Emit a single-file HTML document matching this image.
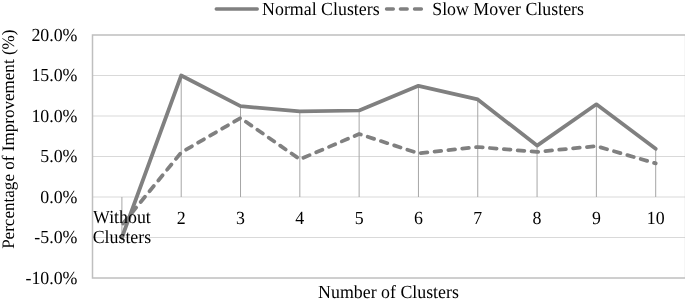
<!DOCTYPE html>
<html><head><meta charset="utf-8"><style>
html,body{margin:0;padding:0;background:#fff;width:685px;height:303px;overflow:hidden}
svg{display:block;will-change:transform}
</style></head><body>
<svg width="685" height="303" viewBox="0 0 685 303">
<rect width="685" height="303" fill="#fff"/>
<line x1="92.5" y1="75.50" x2="685.6" y2="75.50" stroke="#d9d9d9" stroke-width="1"/>
<line x1="92.5" y1="116.00" x2="685.6" y2="116.00" stroke="#d9d9d9" stroke-width="1"/>
<line x1="92.5" y1="156.50" x2="685.6" y2="156.50" stroke="#d9d9d9" stroke-width="1"/>
<line x1="92.5" y1="197.00" x2="685.6" y2="197.00" stroke="#d9d9d9" stroke-width="1"/>
<line x1="92.5" y1="237.50" x2="685.6" y2="237.50" stroke="#d9d9d9" stroke-width="1"/>
<line x1="121.90" y1="197.00" x2="121.90" y2="237.50" stroke="#a6a6a6" stroke-width="1"/>
<line x1="181.21" y1="75.50" x2="181.21" y2="197.00" stroke="#a6a6a6" stroke-width="1"/>
<line x1="240.52" y1="106.20" x2="240.52" y2="197.00" stroke="#a6a6a6" stroke-width="1"/>
<line x1="299.83" y1="111.30" x2="299.83" y2="197.00" stroke="#a6a6a6" stroke-width="1"/>
<line x1="359.14" y1="110.50" x2="359.14" y2="197.00" stroke="#a6a6a6" stroke-width="1"/>
<line x1="418.45" y1="85.80" x2="418.45" y2="197.00" stroke="#a6a6a6" stroke-width="1"/>
<line x1="477.76" y1="99.40" x2="477.76" y2="197.00" stroke="#a6a6a6" stroke-width="1"/>
<line x1="537.07" y1="145.60" x2="537.07" y2="197.00" stroke="#a6a6a6" stroke-width="1"/>
<line x1="596.38" y1="104.30" x2="596.38" y2="197.00" stroke="#a6a6a6" stroke-width="1"/>
<line x1="655.69" y1="148.80" x2="655.69" y2="197.00" stroke="#a6a6a6" stroke-width="1"/>
<rect x="92.5" y="35.00" width="593.1" height="243.00" fill="none" stroke="#bfbfbf" stroke-width="1.5"/>
<polyline points="121.90,225.00 181.21,152.50 240.52,118.00 299.83,159.30 359.14,134.00 418.45,153.30 477.76,147.00 537.07,151.90 596.38,146.10 655.69,163.40" fill="none" stroke="#808080" stroke-width="3.75" stroke-linejoin="round" stroke-linecap="round" stroke-dasharray="6.7 7.215" stroke-dashoffset="-1.89"/>
<polyline points="121.90,237.50 181.21,75.50 240.52,106.20 299.83,111.30 359.14,110.50 418.45,85.80 477.76,99.40 537.07,145.60 596.38,104.30 655.69,148.80" fill="none" stroke="#808080" stroke-width="3.75" stroke-linejoin="round" stroke-linecap="round"/>
<g font-family='"Liberation Serif", serif' fill="#000" text-rendering="geometricPrecision">
<text transform="translate(77.50,40.85) scale(0.965,1)" font-size="18.5" text-anchor="end">20.0%</text>
<text transform="translate(77.50,81.35) scale(0.965,1)" font-size="18.5" text-anchor="end">15.0%</text>
<text transform="translate(77.50,121.85) scale(0.965,1)" font-size="18.5" text-anchor="end">10.0%</text>
<text transform="translate(77.50,162.35) scale(0.965,1)" font-size="18.5" text-anchor="end">5.0%</text>
<text transform="translate(77.50,202.85) scale(0.965,1)" font-size="18.5" text-anchor="end">0.0%</text>
<text transform="translate(77.50,243.35) scale(0.965,1)" font-size="18.5" text-anchor="end">-5.0%</text>
<text transform="translate(77.50,283.85) scale(0.965,1)" font-size="18.5" text-anchor="end">-10.0%</text>
<text transform="translate(121.90,223.20) scale(0.965,1)" font-size="18.5" text-anchor="middle">Without</text>
<text transform="translate(121.90,243.00) scale(0.965,1)" font-size="18.5" text-anchor="middle">Clusters</text>
<text transform="translate(181.21,223.80) scale(0.965,1)" font-size="18.5" text-anchor="middle">2</text>
<text transform="translate(240.52,223.80) scale(0.965,1)" font-size="18.5" text-anchor="middle">3</text>
<text transform="translate(299.83,223.80) scale(0.965,1)" font-size="18.5" text-anchor="middle">4</text>
<text transform="translate(359.14,223.80) scale(0.965,1)" font-size="18.5" text-anchor="middle">5</text>
<text transform="translate(418.45,223.80) scale(0.965,1)" font-size="18.5" text-anchor="middle">6</text>
<text transform="translate(477.76,223.80) scale(0.965,1)" font-size="18.5" text-anchor="middle">7</text>
<text transform="translate(537.07,223.80) scale(0.965,1)" font-size="18.5" text-anchor="middle">8</text>
<text transform="translate(596.38,223.80) scale(0.965,1)" font-size="18.5" text-anchor="middle">9</text>
<text transform="translate(655.69,223.80) scale(0.965,1)" font-size="18.5" text-anchor="middle">10</text>
<text transform="translate(388.50,297.70) scale(0.965,1)" font-size="18.5" text-anchor="middle">Number of Clusters</text>
<text transform="translate(14.4,139.2) rotate(-90) scale(0.975,1)" font-size="17.5" text-anchor="middle">Percentage of Improvement (%)</text>
<text transform="translate(262.10,14.90) scale(0.965,1)" font-size="18.5" text-anchor="start">Normal Clusters</text>
<text transform="translate(432.20,14.90) scale(0.965,1)" font-size="18.5" text-anchor="start">Slow Mover Clusters</text>
</g>
<line x1="216.2" y1="9" x2="257.3" y2="9" stroke="#808080" stroke-width="3.3" stroke-linecap="round"/>
<line x1="386.45" y1="9" x2="393.35" y2="9" stroke="#808080" stroke-width="3.3" stroke-linecap="round"/>
<line x1="400.35" y1="9" x2="407.25" y2="9" stroke="#808080" stroke-width="3.3" stroke-linecap="round"/>
<line x1="414.45" y1="9" x2="421.45" y2="9" stroke="#808080" stroke-width="3.3" stroke-linecap="round"/>
</svg>
</body></html>
